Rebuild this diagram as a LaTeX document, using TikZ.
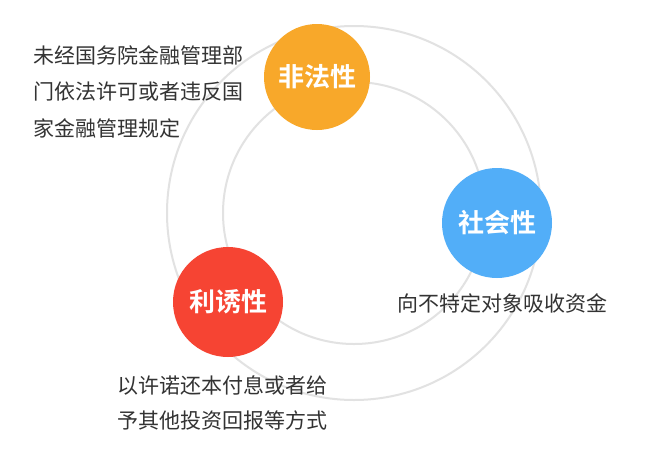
\documentclass[tikz,border=0pt]{standalone}
\usepackage{fontspec}
\setmainfont{Noto Sans CJK SC}
\newfontfamily\cjk{Noto Sans CJK SC}
\newfontfamily\cjkbold{Noto Sans CJK SC Bold}
\definecolor{ringgray}{HTML}{E2E2E2}
\definecolor{txtgray}{HTML}{333333}
\definecolor{corange}{HTML}{F8A82A}
\definecolor{cblue}{HTML}{52AEF8}
\definecolor{cred}{HTML}{F64433}
\begin{document}
\begin{tikzpicture}[x=1pt,y=-1pt,
  ring/.style={draw=ringgray,line width=2pt},
  bubble/.style={circle,inner sep=0pt,text=white,font=\cjkbold\fontsize{26}{30}\selectfont},
  desc/.style={anchor=west,inner sep=0pt,text=txtgray,font=\cjk\fontsize{21}{25}\selectfont}]
\useasboundingbox[fill=white] (0,0) rectangle (650,453);
\coordinate (o) at (354,213);
\draw[ring] (o) circle[radius=187];
\draw[ring] (o) circle[radius=131];
\node[bubble,fill=corange,minimum size=106pt] (ill) at (317,77) {非法性};
\node[bubble,fill=cblue,minimum size=110pt] (soc) at (497,223) {社会性};
\node[bubble,fill=cred,minimum size=110pt] (lur) at (228,302) {利诱性};
\node[desc] (d1) at (33,55) {未经国务院金融管理部};
\node[desc] (d2) at (33,92) {门依法许可或者违反国};
\node[desc] (d3) at (33,128) {家金融管理规定};
\node[desc] (s1) at (397,303) {向不特定对象吸收资金};
\node[desc] (l1) at (117,385) {以许诺还本付息或者给};
\node[desc] (l2) at (117,420) {予其他投资回报等方式};
\end{tikzpicture}
\end{document}
